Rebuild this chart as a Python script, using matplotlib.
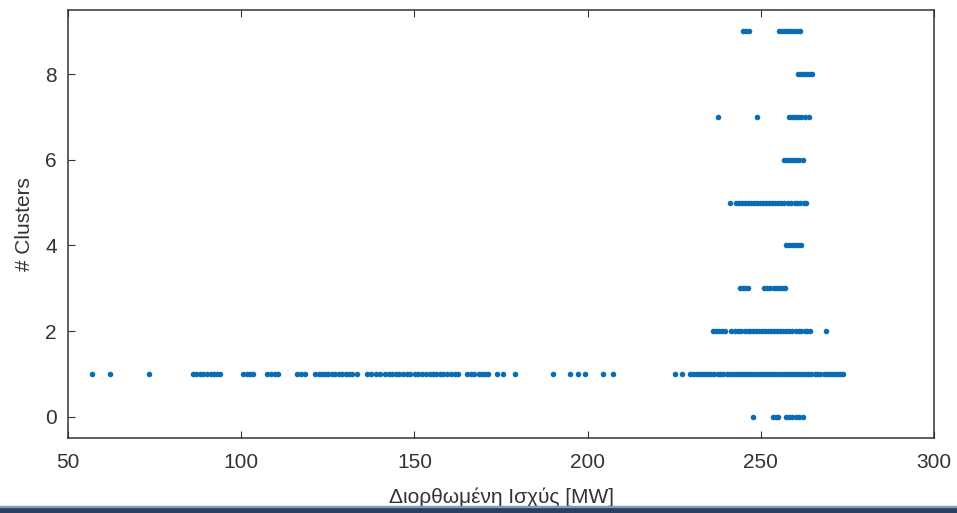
import numpy as np
import matplotlib
matplotlib.use('Agg')
import matplotlib.pyplot as plt
from matplotlib.patches import Rectangle

# x values (corrected power, MW) for each cluster count
c0 = [247.8, 253.5, 254.4, 255.0, 257.3, 258.2, 259.0, 260.1, 261.0, 262.2]
c1 = [56.9, 62.0, 73.5, 86.1, 87.0, 88.2, 89.1, 90.0, 91.2, 92.0, 93.0, 93.9,
      100.5, 101.6, 102.4, 103.4, 107.4, 108.5, 109.6, 110.6, 116.1, 117.2, 118.4,
      121.3, 122.4, 123.2, 124.3, 125.1, 126.2, 127.0, 128.1, 129.0, 130.2, 131.1,
      132.0, 133.4, 136.3, 137.5, 138.8, 140.0, 141.5, 142.6, 143.5, 144.7, 145.6,
      146.8, 147.7, 148.7, 150.2, 151.1, 152.3, 153.2, 154.4, 155.3, 156.2, 157.4,
      158.3, 159.5, 160.4, 161.6, 162.6, 165.2, 166.4, 167.3, 168.5, 169.6, 170.3,
      171.2, 173.8, 175.6, 179.0, 190.0, 195.0, 197.1, 199.2, 204.4, 207.3,
      225.2, 227.2, 229.6, 230.5, 231.4, 232.2, 233.1, 234.0, 234.8, 235.7, 236.6,
      237.5, 238.3, 239.2, 240.1, 241.0, 241.8, 242.7, 243.6, 244.5, 245.3, 246.2,
      247.1, 248.0, 248.8, 249.7, 250.6, 251.5, 252.3, 253.2, 254.1, 255.0, 255.8,
      256.7, 257.6, 258.5, 259.3, 260.2, 261.1, 262.0, 262.8, 263.7, 264.6, 265.5,
      266.3, 267.2, 268.1, 269.0, 269.8, 270.7, 271.6, 272.5, 273.1, 273.7]
c2 = [236.2, 237.1, 238.0, 238.9, 239.7, 241.4, 242.4, 243.3, 244.3, 245.4, 246.3,
      246.9, 247.8, 248.6, 249.5, 250.3, 251.2, 252.0, 252.9, 253.8, 254.7, 255.6,
      256.5, 257.3, 258.2, 259.1, 260.0, 260.9, 261.7, 262.6, 263.4, 264.2, 268.8]
c3 = [244.0, 244.8, 245.5, 246.3, 250.9, 251.7, 252.6, 253.8, 254.6, 255.5, 256.3, 257.0]
c4 = [257.3, 258.1, 259.0, 259.8, 260.7, 261.6]
c5 = [241.1, 242.8, 243.7, 244.5, 245.4, 246.3, 247.1, 248.0, 248.9, 249.8, 250.6,
      251.5, 252.3, 253.2, 254.0, 254.9, 255.8, 256.7, 257.9, 258.8, 259.7, 260.5,
      261.4, 262.3, 263.1]
c6 = [256.7, 257.5, 258.4, 259.3, 260.1, 261.0, 262.2]
c7 = [237.6, 248.9, 258.1, 259.0, 259.9, 260.8, 261.7, 262.6, 263.9]
c8 = [260.7, 261.5, 262.3, 263.1, 264.0, 264.8]
c9 = [244.9, 245.8, 246.6, 255.3, 256.1, 257.0, 257.8, 258.7, 259.5, 260.4, 261.3]

x_ticks = [50, 100, 150, 200, 250, 300]
y_ticks = [0, 2, 4, 6, 8]

plt.rcParams['font.family'] = ['Liberation Sans', 'DejaVu Sans']

fig = plt.figure(figsize=(9.57, 5.13), dpi=100)
ax = fig.add_axes([0.0711, 0.1462, 0.905, 0.8343])

rows = [c0, c1, c2, c3, c4, c5, c6, c7, c8, c9]
for k, xs in enumerate(rows):
    ax.plot(xs, np.full(len(xs), k), linestyle='none', marker='o',
            markersize=4.0, markeredgewidth=0, color='#0a6cb4')

ax.set_xlim(50, 300)
ax.set_ylim(-0.5, 9.5)
ax.set_xticks(x_ticks)
ax.set_yticks(y_ticks)
ax.tick_params(direction='in', length=5, width=0.8, colors='#333333',
               labelsize=15, top=True, right=False, pad=11)
ax.tick_params(axis='y', pad=8)
for s in ax.spines.values():
    s.set_color('#333333')
    s.set_linewidth(1.1)

ax.set_xlabel('Διορθωμένη Ισχύς [MW]', fontsize=15, color='#333333', labelpad=11)
ax.set_ylabel('# Clusters', fontsize=15, color='#333333', labelpad=8)

# dark footer band of the slide
fig.patches.append(Rectangle((0, 0), 1, 6 / 513, transform=fig.transFigure,
                             color='#2c3e5a', zorder=5))
fig.patches.append(Rectangle((0, 6 / 513), 1, 1.5 / 513, transform=fig.transFigure,
                             color='#7f9cbd', zorder=5))

fig.savefig('out.png', dpi=100)
